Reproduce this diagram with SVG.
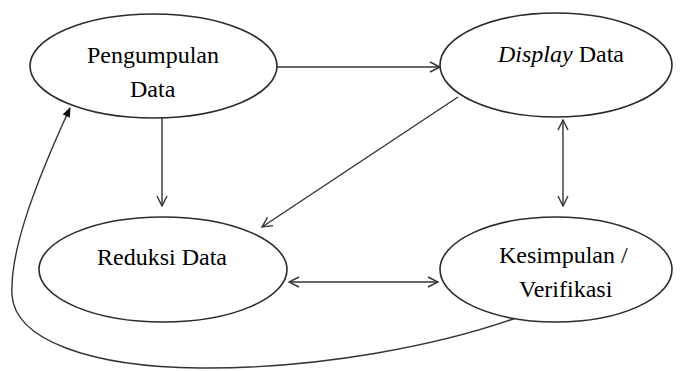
<svg xmlns="http://www.w3.org/2000/svg" width="682" height="371" viewBox="0 0 682 371">
<style>
.node{fill:#ffffff;stroke:#2a2a2a;stroke-width:1.6}
.con{fill:none;stroke:#333;stroke-width:1.4}
</style>
<defs>
<marker id="open" viewBox="0 0 12 12" refX="11" refY="6" markerWidth="12" markerHeight="12" markerUnits="userSpaceOnUse" orient="auto-start-reverse">
<path d="M1,1 L11,6 L1,11" fill="none" stroke="#333" stroke-width="1.4"/>
</marker>
<marker id="solid" viewBox="0 0 10 10" refX="9" refY="5" markerWidth="10" markerHeight="10" markerUnits="userSpaceOnUse" orient="auto">
<path d="M0,1 L10,5 L0,9 Z" fill="#111"/>
</marker>
</defs>
<g id="connectors">
<line class="con" x1="277" y1="67" x2="440" y2="67" marker-end="url(#open)"/>
<line class="con" x1="162" y1="118" x2="162" y2="206" marker-end="url(#open)"/>
<line class="con" x1="458" y1="97" x2="262" y2="227" marker-end="url(#open)"/>
<line class="con" x1="563" y1="120" x2="563" y2="206" marker-start="url(#open)" marker-end="url(#open)"/>
<line class="con" x1="289" y1="282" x2="438" y2="282" marker-start="url(#open)" marker-end="url(#open)"/>
<path class="con" d="M516,318 C440,345 320,369 200,368 C90,367 15,340 12,295 C10,255 30,195 70,108" marker-end="url(#solid)"/>
</g>
<g id="pengumpulan">
<ellipse class="node" cx="153.5" cy="66" rx="123.5" ry="52"/>
<text x="87" y="63" style="font-family:'Liberation Serif','Times New Roman',serif;font-size:24px">Pengumpulan</text>
<text x="130" y="97" style="font-family:'Liberation Serif','Times New Roman',serif;font-size:24px">Data</text>
</g>
<g id="display">
<ellipse class="node" cx="556" cy="65" rx="116" ry="52"/>
<text x="498" y="62" style="font-family:'Liberation Serif','Times New Roman',serif;font-size:24px"><tspan style="font-style:italic">Display</tspan> Data</text>
</g>
<g id="reduksi">
<ellipse class="node" cx="163" cy="269.5" rx="124" ry="52.5"/>
<text x="97" y="265" style="font-family:'Liberation Serif','Times New Roman',serif;font-size:24px">Reduksi Data</text>
</g>
<g id="kesimpulan">
<ellipse class="node" cx="556" cy="269.5" rx="116" ry="52.5"/>
<text x="499" y="263" style="font-family:'Liberation Serif','Times New Roman',serif;font-size:24px">Kesimpulan /</text>
<text x="519" y="297" style="font-family:'Liberation Serif','Times New Roman',serif;font-size:24px">Verifikasi</text>
</g>
</svg>
